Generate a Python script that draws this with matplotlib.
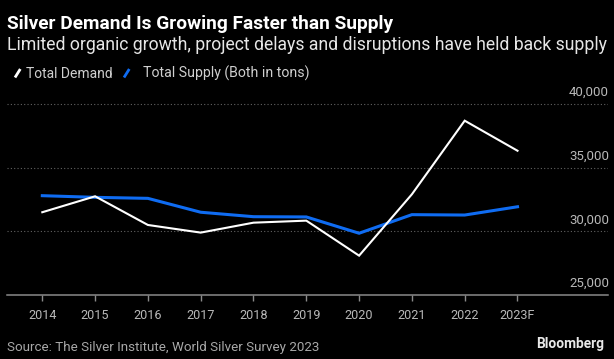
import matplotlib
matplotlib.use("Agg")
import matplotlib.pyplot as plt
from matplotlib.lines import Line2D
import matplotlib.transforms as mtransforms

years = ["2014", "2015", "2016", "2017", "2018", "2019", "2020", "2021", "2022", "2023F"]
total_demand = [31500, 32750, 30500, 29900, 30680, 30840, 28090, 32910, 38690, 36330]
total_supply = [32800, 32670, 32590, 31500, 31150, 31130, 29850, 31310, 31280, 31930]
y_ticks = [25000, 30000, 35000, 40000]
y_tick_labels = ["25,000", "30,000", "35,000", "40,000"]

W, H = 614, 359
FONT = "Roboto"
BG = "#000000"
BLUE = "#0f6cf2"

fig = plt.figure(figsize=(W / 100, H / 100), dpi=100, facecolor=BG)
renderer = fig.canvas.get_renderer()


def px(x, y):
    return x / W, 1 - y / H


def fit_text(t, target_w):
    bb = t.get_window_extent(renderer)
    t.set_fontsize(t.get_fontsize() * target_w / bb.width)
    return t.get_fontsize()


# Axes geometry
ax_left, ax_right = 6.7, 608.0
y_bottom_px = 295.0
per_1000 = 12.733
ymin, ymax = 25000, 41000
top_px = y_bottom_px - (ymax - ymin) / 1000 * per_1000
ax = fig.add_axes([ax_left / W, 1 - y_bottom_px / H, (ax_right - ax_left) / W, (y_bottom_px - top_px) / H])
ax.set_facecolor(BG)

x = list(range(len(years)))
ax.plot(x, total_supply, color=BLUE, lw=2.2, solid_joinstyle="miter", zorder=3)
ax.plot(x, total_demand, color="white", lw=1.5, solid_joinstyle="miter", zorder=4)

first_px, step_px = 42.3, 52.8
ax.set_xlim(-(first_px - ax_left) / step_px, (len(years) - 1) + (ax_right - (first_px + step_px * (len(years) - 1))) / step_px)
ax.set_ylim(ymin, ymax)

for s in ["top", "right", "left"]:
    ax.spines[s].set_visible(False)
ax.spines["bottom"].set_color("#8a8a8a")
ax.spines["bottom"].set_linewidth(1.1)

# measure tick font sizes
probe = fig.text(0, 0, "2014", fontsize=10, fontfamily=FONT)
xfs = fit_text(probe, 28.3)
probe.remove()
probe = fig.text(0, 0, "40,000", fontsize=10, fontfamily=FONT)
yfs = fit_text(probe, 39.7)
probe.remove()

ax.set_xticks(x)
ax.set_xticklabels(years)
ax.tick_params(axis="x", colors="#8a8a8a", length=4, width=1.0, direction="out", pad=6,
               labelcolor="#b8b8b8", labelsize=xfs)
for lab in ax.get_xticklabels():
    lab.set_fontfamily(FONT)
ax.set_yticks([])

for v in y_ticks[1:]:
    ax.axhline(v, color="#626262", lw=0.8, ls=(0, (1, 2)), zorder=1)

ytrans = mtransforms.offset_copy(ax.get_yaxis_transform(), fig=fig, x=0, y=8.0, units="dots")
for v, lab in zip(y_ticks, y_tick_labels):
    ax.text((609 - ax_left) / (ax_right - ax_left), v, lab, transform=ytrans,
            ha="right", va="baseline", color="#b8b8b8", fontsize=yfs, fontfamily=FONT)

# Header
t = fig.text(*px(7.3, 29.3), "Silver Demand Is Growing Faster than Supply", color="white",
             fontsize=12.5, fontweight="bold", fontfamily=FONT, va="baseline", ha="left")
fit_text(t, 395 - 7.3)
t = fig.text(*px(7.3, 50.0), "Limited organic growth, project delays and disruptions have held back supply",
             color="#e6e6e6", fontsize=12.5, fontfamily=FONT, va="baseline", ha="left")
fit_text(t, 606.7 - 7.3)

# Legend
fig.add_artist(Line2D([15 / W, 20.3 / W], [1 - 77.5 / H, 1 - 69 / H], color="white", lw=2.0, solid_capstyle="butt"))
fig.add_artist(Line2D([124 / W, 129.3 / W], [1 - 77.5 / H, 1 - 69 / H], color=BLUE, lw=2.0, solid_capstyle="butt"))
t = fig.text(*px(26, 77.7), "Total Demand", color="#cfcfcf", fontsize=10, fontfamily=FONT, va="baseline", ha="left")
fit_text(t, 112.7 - 26)
t = fig.text(*px(142.7, 77.7), "Total Supply (Both in tons)", color="#cfcfcf", fontsize=10, fontfamily=FONT, va="baseline", ha="left")
fit_text(t, 308.3 - 142.7)

# Footer
t = fig.text(*px(7.3, 350.7), "Source: The Silver Institute, World Silver Survey 2023", color="#a8a8a8",
             fontsize=10, fontfamily=FONT, va="baseline", ha="left")
fit_text(t, 319 - 7.3)
t = fig.text(*px(604, 348.3), "Bloomberg", color="#e8e8e8", fontsize=10, fontweight="bold",
             fontfamily=FONT, va="baseline", ha="right")
fit_text(t, 604 - 535.7)

fig.savefig("out.png", dpi=100, facecolor=BG)
